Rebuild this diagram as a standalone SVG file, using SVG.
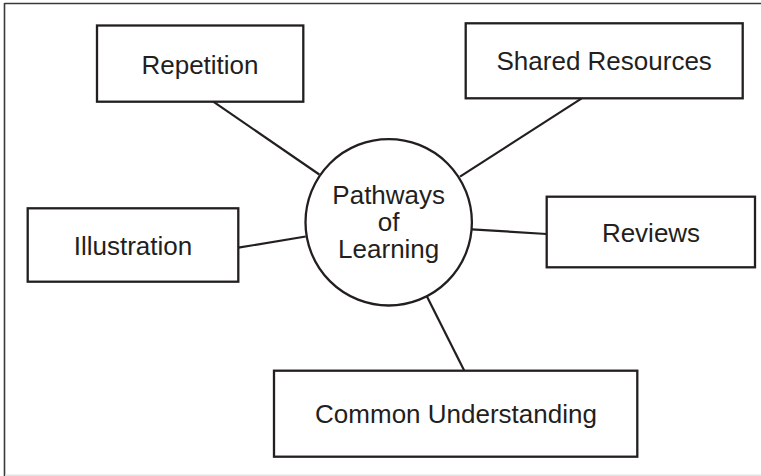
<svg xmlns="http://www.w3.org/2000/svg" width="761" height="476" viewBox="0 0 761 476">
<style>
.box{fill:#fff;stroke:#231f20;stroke-width:2.3}
.lbl{font-family:"Liberation Sans",Arial,sans-serif;font-size:26px;fill:#231f20;text-anchor:middle}
.conn line{stroke:#231f20;stroke-width:2.2}
</style>
<rect width="761" height="476" fill="#fff"/>
<g id="frame">
<line x1="4.5" y1="3.5" x2="761" y2="3.5" stroke="#3a3a3a" stroke-width="1.6"/>
<line x1="4.5" y1="3" x2="4.5" y2="476" stroke="#3a3a3a" stroke-width="1.6"/>
<line x1="5" y1="475.2" x2="761" y2="475.2" stroke="#e2e2e2" stroke-width="1.5"/>
</g>
<g id="connectors" class="conn">
<line x1="213.3" y1="101.7" x2="319.3" y2="174.5"/>
<line x1="581.7" y1="98.3" x2="460" y2="176.7"/>
<line x1="238.3" y1="247.7" x2="305.7" y2="236.5"/>
<line x1="471.7" y1="229.3" x2="546.7" y2="234"/>
<line x1="426.7" y1="296" x2="464.3" y2="370.7"/>
</g>
<g id="center">
<circle cx="388.7" cy="222.3" r="83.2" class="box"/>
<text class="lbl" x="388.7" y="204">Pathways<tspan x="388.7" dy="27">of</tspan><tspan x="388.7" dy="27.3">Learning</tspan></text>
</g>
<g id="repetition">
<rect x="97" y="25.5" width="206.3" height="76.2" class="box"/>
<text class="lbl" x="200" y="74">Repetition</text>
</g>
<g id="shared">
<rect x="465.7" y="23.3" width="277" height="75" class="box"/>
<text class="lbl" x="604.2" y="70">Shared Resources</text>
</g>
<g id="illustration">
<rect x="27.7" y="208.3" width="210.6" height="73.4" class="box"/>
<text class="lbl" x="133" y="255">Illustration</text>
</g>
<g id="reviews">
<rect x="546.7" y="196.7" width="208.3" height="70.6" class="box"/>
<text class="lbl" x="651" y="241.7">Reviews</text>
</g>
<g id="common">
<rect x="274" y="370.7" width="363.3" height="86" class="box"/>
<text class="lbl" x="456" y="422.7">Common Understanding</text>
</g>
</svg>
